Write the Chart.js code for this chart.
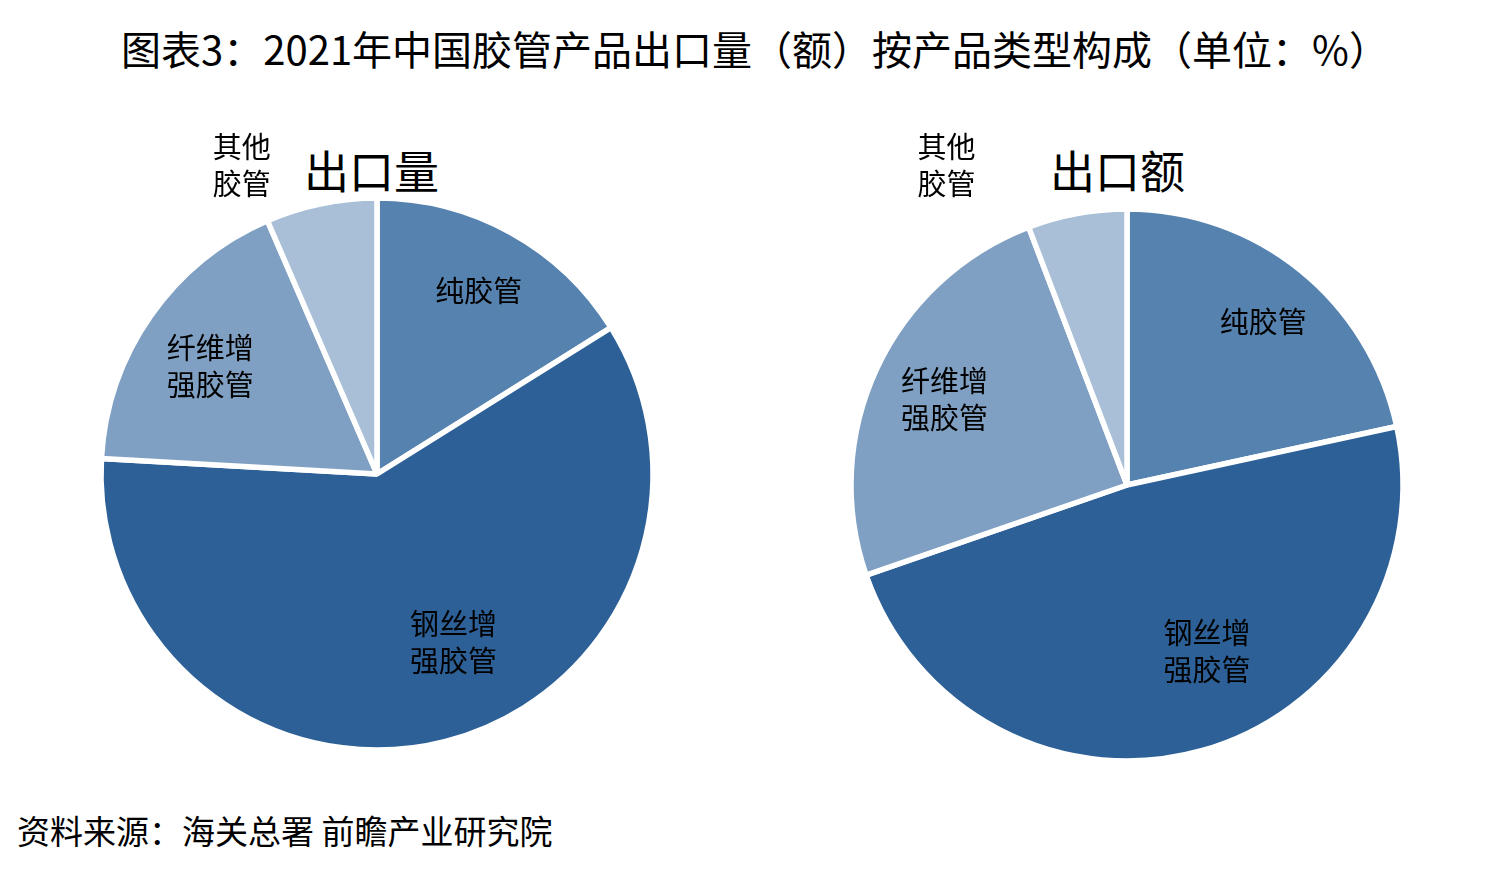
<!DOCTYPE html>
<html>
<head>
<meta charset="utf-8">
<script src="https://cdn.jsdelivr.net/npm/chart.js@4"></script>
<style>
  body { margin: 0; width: 1510px; height: 883px; background: #fff; position: relative; overflow: hidden;
         font-family: "Noto Sans CJK SC", "Noto Sans", sans-serif; color: #000; }
  #title { position: absolute; top: 20px; left: 0; width: 1510px; text-align: center; font-size: 40px; line-height: 56px; }
  .sub { position: absolute; font-size: 45px; line-height: 56px; }
  #source { position: absolute; left: 17px; top: 807px; font-size: 33px; line-height: 46px; }
  canvas { position: absolute; }
</style>
</head>
<body>
<div id="title">图表3：2021年中国胶管产品出口量（额）按产品类型构成（单位：%）</div>
<div class="sub" style="left:304px; top:142px;">出口量</div>
<div class="sub" style="left:1050px; top:142px;">出口额</div>
<div id="source">资料来源：海关总署 前瞻产业研究院</div>
<div style="position:absolute; left:7px; top:104px; width:740px; height:740px;"><canvas id="volChart"></canvas></div>
<div style="position:absolute; left:757px; top:115px; width:740px; height:740px;"><canvas id="valChart"></canvas></div>

<script>
// categories and shares (%)
const categories = ['纯胶管', '钢丝增强胶管', '纤维增强胶管', '其他胶管'];
const labelLines = [['纯胶管'], ['钢丝增', '强胶管'], ['纤维增', '强胶管'], ['其他', '胶管']];
const volumeShare = [16.1, 59.8, 17.6, 6.5];
const valueShare = [21.6, 48.1, 24.5, 5.8];

const colors = ['#5682AF', '#2C6097', '#7FA0C3', '#A9BFD7'];

// label placement per slice: [fraction of radius, angle shift in degrees]
const volLabelPos = [[0.76, 0], [0.67, -10], [0.72, -2], [1.22, -12]];
const valLabelPos = [[0.77, 1], [0.67, -10], [0.73, 0], [1.33, -19]];

const sliceLabels = {
    id: 'sliceLabels',
    afterDatasetsDraw(chart, args, opts) {
        const ctx = chart.ctx;
        const meta = chart.getDatasetMeta(0);
        ctx.save();
        ctx.fillStyle = '#000';
        ctx.font = '29px "Noto Sans CJK SC", sans-serif';
        ctx.textAlign = 'center';
        ctx.textBaseline = 'middle';
        meta.data.forEach((arc, i) => {
            const p = arc.getProps(['x', 'y', 'startAngle', 'endAngle', 'outerRadius'], true);
            const [frac, shift] = opts.pos[i];
            const mid = (p.startAngle + p.endAngle) / 2 + shift * Math.PI / 180;
            const cx = p.x + Math.cos(mid) * p.outerRadius * frac;
            const cy = p.y + Math.sin(mid) * p.outerRadius * frac;
            const lines = labelLines[i];
            const lh = 37;
            lines.forEach((t, j) => {
                ctx.fillText(t, cx, cy + (j - (lines.length - 1) / 2) * lh);
            });
        });
        ctx.restore();
    }
};

function makePie(id, values, pos) {
    return new Chart(document.getElementById(id), {
        type: 'pie',
        data: {
            labels: categories,
            datasets: [{
                data: values,
                backgroundColor: colors,
                borderColor: '#fff',
                borderWidth: 5.5
            }]
        },
        options: {
            responsive: true,
            maintainAspectRatio: false,
            animation: false,
            radius: 276,
            layout: { padding: 0 },
            plugins: {
                legend: { display: false },
                tooltip: { enabled: false },
                sliceLabels: { pos }
            }
        },
        plugins: [sliceLabels]
    });
}

makePie('volChart', volumeShare, volLabelPos);
makePie('valChart', valueShare, valLabelPos);
</script>
</body>
</html>
